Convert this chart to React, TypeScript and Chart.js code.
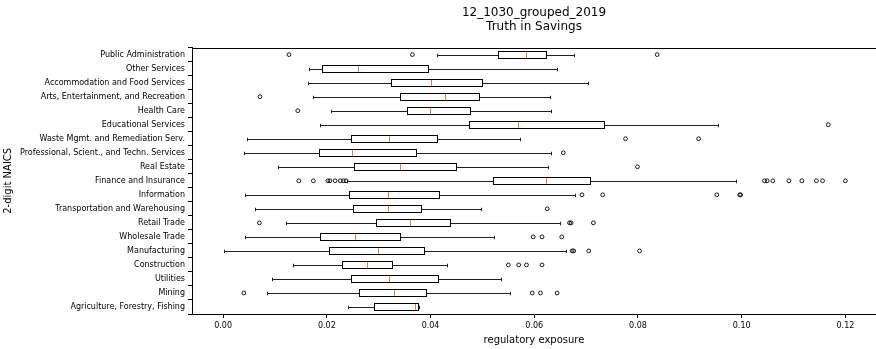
import React, { useEffect, useRef } from "react";
import { Chart, registerables } from "chart.js";

Chart.register(...registerables);

const titleLines = ["12_1030_grouped_2019", "Truth in Savings"];
const xAxisLabel = "regulatory exposure";
const yAxisLabel = "2-digit NAICS";

const categories = [
  "Public Administration",
  "Other Services",
  "Accommodation and Food Services",
  "Arts, Entertainment, and Recreation",
  "Health Care",
  "Educational Services",
  "Waste Mgmt. and Remediation Serv.",
  "Professional, Scient., and Techn. Services",
  "Real Estate",
  "Finance and Insurance",
  "Information",
  "Transportation and Warehousing",
  "Retail Trade",
  "Wholesale Trade",
  "Manufacturing",
  "Construction",
  "Utilities",
  "Mining",
  "Agriculture, Forestry, Fishing",
];

const whiskerLow = [0.0412, 0.0166, 0.0163, 0.0174, 0.0209, 0.0187, 0.0046, 0.004, 0.0105, 0.0239, 0.0042, 0.0061, 0.0121, 0.0042, 0.0001, 0.0135, 0.0095, 0.0085, 0.024];
const q1 = [0.0531, 0.019, 0.0324, 0.0342, 0.0354, 0.0474, 0.0246, 0.0184, 0.0252, 0.052, 0.0242, 0.025, 0.0295, 0.0187, 0.0204, 0.023, 0.0247, 0.0263, 0.0291];
const median = [0.0585, 0.0261, 0.0401, 0.0427, 0.0399, 0.0569, 0.0319, 0.0248, 0.0342, 0.0622, 0.0318, 0.0318, 0.0361, 0.0255, 0.0298, 0.0278, 0.0319, 0.0329, 0.037];
const q3 = [0.0622, 0.0396, 0.05, 0.0494, 0.0477, 0.0735, 0.0413, 0.0371, 0.045, 0.0708, 0.0417, 0.0381, 0.0438, 0.0342, 0.0388, 0.0325, 0.0415, 0.0392, 0.0376];
const whiskerHigh = [0.0676, 0.0643, 0.0704, 0.063, 0.0633, 0.0954, 0.0572, 0.0632, 0.0627, 0.0989, 0.0679, 0.0498, 0.0649, 0.0522, 0.0662, 0.0432, 0.0535, 0.0554, 0.0378];
const outliers = [
  [0.0127, 0.0365, 0.0837],
  [],
  [],
  [0.0071],
  [0.0144],
  [0.1167],
  [0.0776, 0.0917],
  [0.0656],
  [0.0799],
  [0.0146, 0.0174, 0.0202, 0.0206, 0.0216, 0.0226, 0.0232, 0.0237, 0.1044, 0.1049, 0.106, 0.1091, 0.1116, 0.1144, 0.1156, 0.12],
  [0.0692, 0.0732, 0.0952, 0.0996, 0.0998],
  [0.0625],
  [0.007, 0.0668, 0.0671, 0.0714],
  [0.0598, 0.0615, 0.0653],
  [0.0673, 0.0676, 0.0705, 0.0803],
  [0.055, 0.057, 0.0585, 0.0615],
  [],
  [0.004, 0.0596, 0.0612, 0.0644],
  [],
];

const xTickValues = [0, 0.02, 0.04, 0.06, 0.08, 0.1, 0.12];
const xMin = -0.006;
const xMax = 0.1259;

const FONT = "'DejaVu Sans', sans-serif";

const crisp = (v: number) => Math.round(v) + 0.5;

const boxplotPlugin = {
  id: "boxplotExtras",
  afterDatasetsDraw(chart: any) {
    const { ctx, chartArea, scales } = chart;
    const xs = scales.x;
    const ys = scales.y;
    const meta = chart.getDatasetMeta(0);
    ctx.save();
    ctx.beginPath();
    ctx.rect(chartArea.left, chartArea.top, chartArea.right - chartArea.left, chartArea.bottom - chartArea.top);
    ctx.clip();
    ctx.lineWidth = 1;
    categories.forEach((_c, i) => {
      const yc = ys.getPixelForValue(i);
      const bar = meta.data[i];
      const half = bar ? bar.height / 2 : 3.5;
      const cap = half / 2;
      const xlo = crisp(xs.getPixelForValue(whiskerLow[i]));
      const xq1 = crisp(xs.getPixelForValue(q1[i]));
      const xq3 = crisp(xs.getPixelForValue(q3[i]));
      const xhi = crisp(xs.getPixelForValue(whiskerHigh[i]));
      const xmed = crisp(xs.getPixelForValue(median[i]));
      const ym = crisp(yc);
      const yt = crisp(yc - half);
      const yb = crisp(yc + half);
      ctx.strokeStyle = "#222";
      ctx.beginPath();
      ctx.moveTo(xlo, ym);
      ctx.lineTo(xq1, ym);
      ctx.moveTo(xq3, ym);
      ctx.lineTo(xhi, ym);
      ctx.moveTo(xlo, ym - cap);
      ctx.lineTo(xlo, ym + cap);
      ctx.moveTo(xhi, ym - cap);
      ctx.lineTo(xhi, ym + cap);
      ctx.stroke();
      // box outline
      ctx.strokeStyle = "#000";
      ctx.strokeRect(xq1, yt, xq3 - xq1, yb - yt);
      // median
      ctx.strokeStyle = "#ff7f0e";
      ctx.beginPath();
      ctx.moveTo(xmed, yt + 0.5);
      ctx.lineTo(xmed, yb - 0.5);
      ctx.stroke();
    });
    ctx.restore();
    // top spine
    ctx.save();
    ctx.strokeStyle = "#000";
    ctx.lineWidth = 1;
    ctx.beginPath();
    const t = Math.round(chartArea.top) + 0.5;
    ctx.moveTo(chartArea.left, t);
    ctx.lineTo(chartArea.right, t);
    ctx.stroke();
    ctx.restore();
  },
};

export default function App() {
  const ref = useRef<HTMLCanvasElement | null>(null);

  useEffect(() => {
    document.body.style.margin = "0";
    const canvas = ref.current;
    if (!canvas) return;
    const outlierPoints: { x: number; y: string }[] = [];
    outliers.forEach((arr, i) => arr.forEach((v) => outlierPoints.push({ x: v, y: categories[i] })));

    const chart = new Chart(canvas, {
      type: "bar",
      data: {
        labels: categories,
        datasets: [
          {
            type: "bar",
            data: categories.map((_c, i) => [q1[i], q3[i]]),
            backgroundColor: "#ffffff",
            borderColor: "#000000",
            borderWidth: 0,
            borderSkipped: false,
            barPercentage: 0.5,
            categoryPercentage: 1,
          } as any,
          {
            type: "scatter",
            data: outlierPoints,
            pointRadius: 1.9,
            pointBorderWidth: 0.9,
            pointBackgroundColor: "rgba(0,0,0,0)",
            pointBorderColor: "#000",
            showLine: false,
          } as any,
        ],
      },
      options: {
        indexAxis: "y",
        animation: false,
        responsive: false,
        maintainAspectRatio: false,
        layout: { autoPadding: false, padding: { left: 0, right: 0, top: 0, bottom: 0 } },
        plugins: {
          legend: { display: false },
          tooltip: { enabled: false },
          title: {
            display: true,
            text: titleLines,
            color: "#000",
            fullSize: false,
            font: { family: FONT, size: 12, weight: "normal", lineHeight: 1.17 },
            padding: { top: 6, bottom: 13.5 },
          },
        },
        scales: {
          x: {
            type: "linear",
            min: xMin,
            max: xMax,
            afterBuildTicks: (scale: any) => {
              scale.ticks = xTickValues.map((v) => ({ value: v }));
            },
            afterFit: (scale: any) => {
              scale.height = 35;
              scale.paddingLeft = 0;
              scale.paddingRight = 0;
            },
            ticks: {
              color: "#000",
              font: { family: FONT, size: 8 },
              padding: 3,
              maxRotation: 0,
              autoSkip: false,
              callback: (v: any) => Number(v).toFixed(2),
            },
            grid: { display: true, drawOnChartArea: false, drawTicks: true, tickLength: 4, color: "#000" },
            border: { display: true, color: "#000", width: 1 },
            title: {
              display: true,
              text: xAxisLabel,
              color: "#000",
              font: { family: FONT, size: 10 },
              padding: { top: 0, bottom: 3 },
            },
          },
          y: {
            type: "category",
            afterFit: (scale: any) => {
              scale.width = 192;
              scale.paddingTop = 0;
              scale.paddingBottom = 0;
            },
            ticks: {
              color: "#000",
              font: { family: FONT, size: 8 },
              padding: 3,
              autoSkip: false,
            },
            grid: { display: true, drawOnChartArea: false, drawTicks: true, tickLength: 4, color: "#000" },
            border: { display: true, color: "#000", width: 1 },
            title: {
              display: true,
              text: yAxisLabel,
              color: "#000",
              font: { family: FONT, size: 10 },
              padding: { top: 2, bottom: 0 },
            },
          },
        },
      } as any,
      plugins: [boxplotPlugin],
    });
    return () => chart.destroy();
  }, []);

  return (
    <div style={{ width: 876, height: 349, position: "relative", background: "#fff" }}>
      <canvas ref={ref} width={876} height={349} style={{ display: "block", width: 876, height: 349 }} />
    </div>
  );
}
